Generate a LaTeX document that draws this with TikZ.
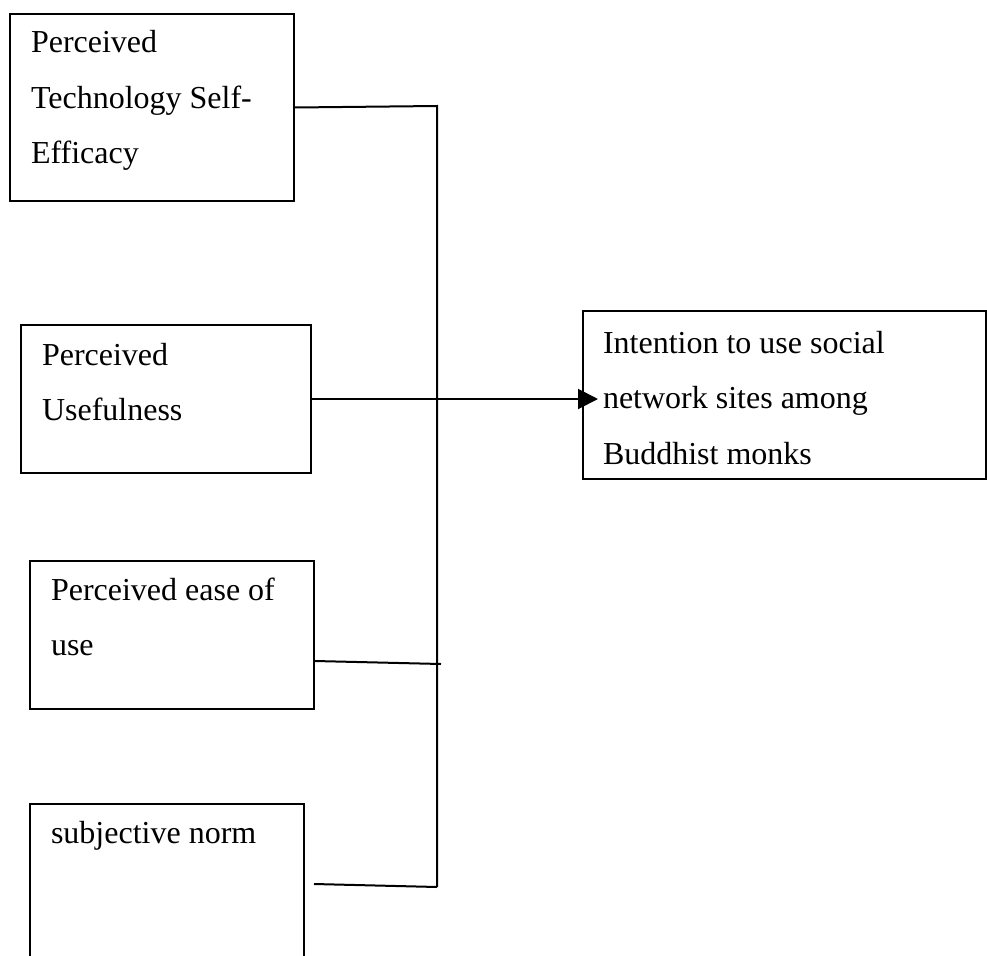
\documentclass[tikz,border=0pt]{standalone}
\usepackage{fontspec}
\setmainfont{Liberation Serif}
\usetikzlibrary{arrows.meta}
\newcommand{\factorfont}{\fontsize{32}{55.5}\selectfont}
\tikzset{
  factor/.style={draw, line width=2pt, anchor=north west, inner ysep=0pt,
    inner xsep=21pt, align=flush left, font=\factorfont},
  link/.style={line width=2pt}
}
\begin{document}
\begin{tikzpicture}[x=1pt,y=-1pt] %Modelo de intencion
        \useasboundingbox (0,0) rectangle (987,955);

        \node[factor, text width=242pt, text height=39pt, text depth=148pt] (tse) at (9,13)
            {Perceived\\Technology Self-\\Efficacy};
        \node[factor, text width=248pt, text height=40pt, text depth=108pt] (pu) at (20,324)
            {Perceived\\Usefulness};
        \node[factor, text width=242pt, text height=39pt, text depth=109pt] (peou) at (29,560)
            {Perceived ease of\\use};
        \node[factor, text width=232pt, text height=39pt, text depth=161pt] (sn) at (29,803)
            {subjective norm};
        \node[factor, inner xsep=20pt, text width=363pt, text height=42pt, text depth=126pt] (it) at (582,310)
            {Intention to use social\\network sites among\\Buddhist monks};

        \coordinate (top) at (437,106);
        \coordinate (bot) at (437,887);
        \coordinate (mid) at (441,664);

        \draw[link] (tse.east) -- (top) -- (bot);
        \draw[link, -{Triangle[length=20pt,width=20pt]}] (pu.east) -- ([xshift=16pt]pu.east -| it.west);
        \draw[link] ([yshift=-26pt]peou.east) -- (mid);
        \draw[link] ([xshift=9pt,yshift=-81pt]sn.north east) -- (bot);
    \end{tikzpicture}
\end{document}
